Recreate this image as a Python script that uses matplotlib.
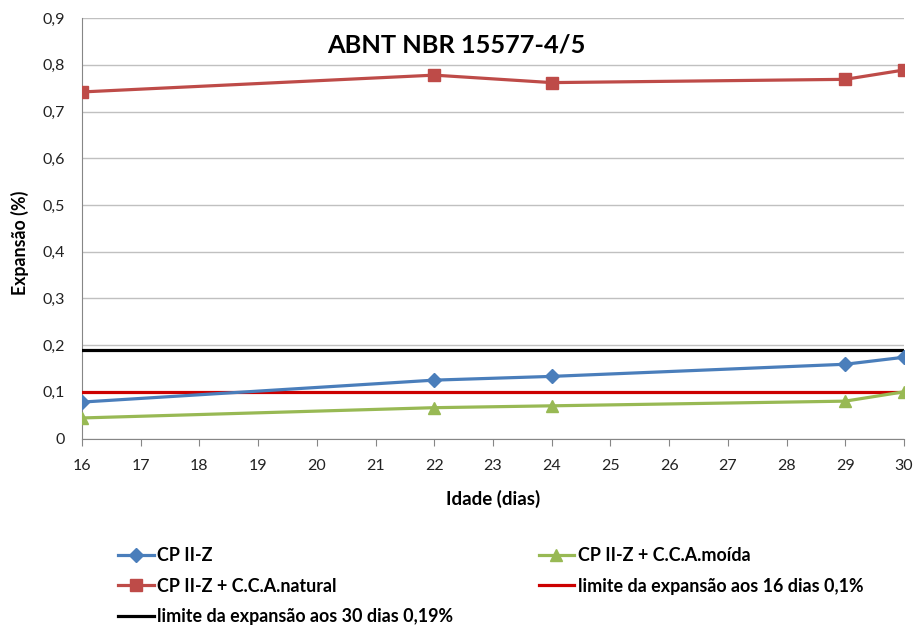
import matplotlib.pyplot as plt
from matplotlib.ticker import FuncFormatter

plt.rcParams['font.family'] = ['Lato', 'DejaVu Sans']

# idade dos ensaios (dias) e expansão medida (%)
idade = [16, 22, 24, 29, 30]
cp_ii_z = [0.078, 0.125, 0.133, 0.159, 0.174]
cca_moida = [0.044, 0.066, 0.070, 0.080, 0.100]
cca_natural = [0.742, 0.778, 0.762, 0.769, 0.789]

# limites normativos
limite_16 = 0.10
limite_30 = 0.19
idade_limites = [16, 30]

fig = plt.figure(figsize=(9.14, 6.26), dpi=100)
ax = fig.add_axes([0.0897, 0.2995, 0.8993, 0.6715])

grid_cor = '#C0C0C0'
eixo_cor = '#868686'

l_cp, = ax.plot(idade, cp_ii_z, color='#4A7EBB', lw=2.3, marker='D', ms=7,
                label='CP II-Z', zorder=4)
l_moida, = ax.plot(idade, cca_moida, color='#98B954', lw=2.3, marker='^', ms=9,
                   label='CP II-Z + C.C.A.moída', zorder=4)
l_nat, = ax.plot(idade, cca_natural, color='#BE4B48', lw=2.3, marker='s', ms=8.5,
                 label='CP II-Z + C.C.A.natural', zorder=4)
l_16, = ax.plot(idade_limites, [limite_16] * 2, color='#CC0000', lw=2.3,
                label='limite da expansão aos 16 dias 0,1%', zorder=3)
l_30, = ax.plot(idade_limites, [limite_30] * 2, color='black', lw=2.3,
                label='limite da expansão aos 30 dias 0,19%', zorder=3)

ax.set_xlim(16, 30)
ax.set_ylim(0, 0.9)
ax.set_xticks(range(16, 31))
ax.set_yticks([i / 10 for i in range(10)])
ax.yaxis.set_major_formatter(FuncFormatter(
    lambda v, p: '0' if abs(v) < 1e-9 else f'{v:.1f}'.replace('.', ',')))

ax.grid(axis='y', color=grid_cor, lw=1)
ax.set_axisbelow(True)
for lado in ['top', 'right']:
    ax.spines[lado].set_visible(False)
for lado in ['left', 'bottom']:
    ax.spines[lado].set_color(eixo_cor)
ax.tick_params(axis='x', colors=eixo_cor, labelcolor='#222222', labelsize=11.5,
               length=5, pad=10)
ax.tick_params(axis='y', colors=eixo_cor, labelcolor='#222222', labelsize=11.5,
               length=0, pad=12)

ax.set_xlabel('Idade (dias)', fontsize=13.5, fontweight='bold', labelpad=12)
ax.set_ylabel('Expansão (%)', fontsize=12.8, fontweight='bold')
ax.yaxis.set_label_coords(-0.064, 0.465)

ax.text(0.456, 0.963, 'ABNT NBR 15577-4/5', transform=ax.transAxes,
        ha='center', va='top', fontsize=18.3, fontweight='bold')

# legenda em duas colunas: preenchimento por coluna
handles = [l_cp, l_nat, l_30, l_moida, l_16]
fig.legend(handles=handles, labels=[h.get_label() for h in handles],
           ncol=2, loc='upper left', bbox_to_anchor=(0.129, 0.1254),
           frameon=False, prop={'size': 12.9, 'weight': 'bold'},
           handlelength=2.0, handletextpad=0.2, borderpad=0,
           columnspacing=4.75, labelspacing=0.74, borderaxespad=0)

fig.savefig('out.png', dpi=100)
